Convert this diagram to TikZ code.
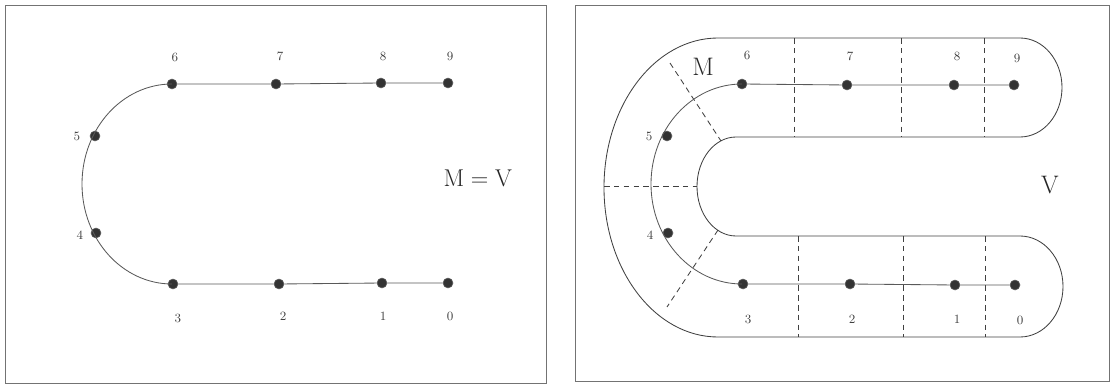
\documentclass[tikz,border=0pt]{standalone}
\usepackage{tikz}

\tikzset{
  dot/.style={circle, fill=black!80, draw=black!60, inner sep=0pt, minimum size=0.25cm},
  lbl/.style={font=\fontsize{9}{10}\selectfont, text=black!75, inner sep=0pt},
  big/.style={font=\fontsize{18}{20}\selectfont, text=black!85, inner sep=0pt},
  link/.style={black!65, line width=0.6pt},
  wall/.style={black!75, line width=0.6pt},
  cut/.style={black!75, line width=0.6pt, dash pattern=on 4pt off 3pt},
  frame/.style={black!55, line width=0.5pt}
}

\begin{document}
\begin{tikzpicture}[x=0.025cm, y=-0.025cm]
        \useasboundingbox (0,0) rectangle (1112,387);
        % Frames
        \draw[frame] (5,5) rectangle (546,383);
        \draw[frame] (575,5) rectangle (1109,381);
        % Left: points
        \node[dot] (l0) at (448,283) {};
        \node[dot] (l1) at (382,283) {};
        \node[dot] (l2) at (279,284) {};
        \node[dot] (l3) at (173,284) {};
        \node[dot] (l4) at (96,233) {};
        \node[dot] (l5) at (95,136) {};
        \node[dot] (l6) at (172,84) {};
        \node[dot] (l7) at (276,84) {};
        \node[dot] (l8) at (381,83) {};
        \node[dot] (l9) at (448,83) {};
        \draw[link] (l0) -- (l1) -- (l2) -- (l3);
        \draw[link] (l6) -- (l7) -- (l8) -- (l9);
        \draw[link] (l6.center) arc[start angle=270, end angle=90, x radius=90, y radius=100];
        % Left: labels
        \node[lbl] (n0) at (450,316) {0};
        \node[lbl] (n1) at (383,316) {1};
        \node[lbl] (n2) at (283,316) {2};
        \node[lbl] (n3) at (178,318) {3};
        \node[lbl] (n4) at (80,235) {4};
        \node[lbl] (n5) at (77,136) {5};
        \node[lbl] (n6) at (175,57) {6};
        \node[lbl] (n7) at (280,56) {7};
        \node[lbl] (n8) at (383,56) {8};
        \node[lbl] (n9) at (450,56) {9};
        \node[big] (mv) at (478,178) {$\mathrm{M}=\mathrm{V}$};
        % Right: band V
        \draw[wall] (718,38) -- (1020,38)
            arc[start angle=-90, end angle=90, x radius=42, y radius=49.5]
            -- (736,137)
            arc[start angle=270, end angle=90, x radius=39, y radius=49.5]
            -- (1020,236)
            arc[start angle=-90, end angle=90, x radius=43, y radius=50.5]
            -- (718,337)
            arc[start angle=90, end angle=270, x radius=114, y radius=149.5]
            -- cycle;
        % Right: cuts
        \draw[cut] (670,63) -- (721,141);
        \draw[cut] (604,186) -- (697,186);
        \draw[cut] (718,230) -- (667,307);
        \foreach \x in {794,901,984}
            \draw[cut] (\x,38) -- (\x,137);
        \foreach \x in {798,903,985}
            \draw[cut] (\x,236) -- (\x,337);
        % Right: points
        \node[dot] (r0) at (1015,285) {};
        \node[dot] (r1) at (955,285) {};
        \node[dot] (r2) at (850,284) {};
        \node[dot] (r3) at (743,284) {};
        \node[dot] (r4) at (668,233) {};
        \node[dot] (r5) at (667,136) {};
        \node[dot] (r6) at (742,84) {};
        \node[dot] (r7) at (847,85) {};
        \node[dot] (r8) at (954,85) {};
        \node[dot] (r9) at (1014,85) {};
        \draw[link] (r0) -- (r1) -- (r2) -- (r3);
        \draw[link] (r6) -- (r7) -- (r8) -- (r9);
        \draw[link] (r6.center) arc[start angle=270, end angle=90, x radius=91, y radius=100];
        % Right: labels
        \node[lbl] (m0) at (1020,320) {0};
        \node[lbl] (m1) at (957,319) {1};
        \node[lbl] (m2) at (852,319) {2};
        \node[lbl] (m3) at (748,319) {3};
        \node[lbl] (m4) at (650,235) {4};
        \node[lbl] (m5) at (649,136) {5};
        \node[lbl] (m6) at (747,55) {6};
        \node[lbl] (m7) at (850,56) {7};
        \node[lbl] (m8) at (957,56) {8};
        \node[lbl] (m9) at (1017,58) {9};
        \node[big] (mm) at (703,67) {M};
        \node[big] (vv) at (1050,185) {V};
    \end{tikzpicture}
\end{document}
